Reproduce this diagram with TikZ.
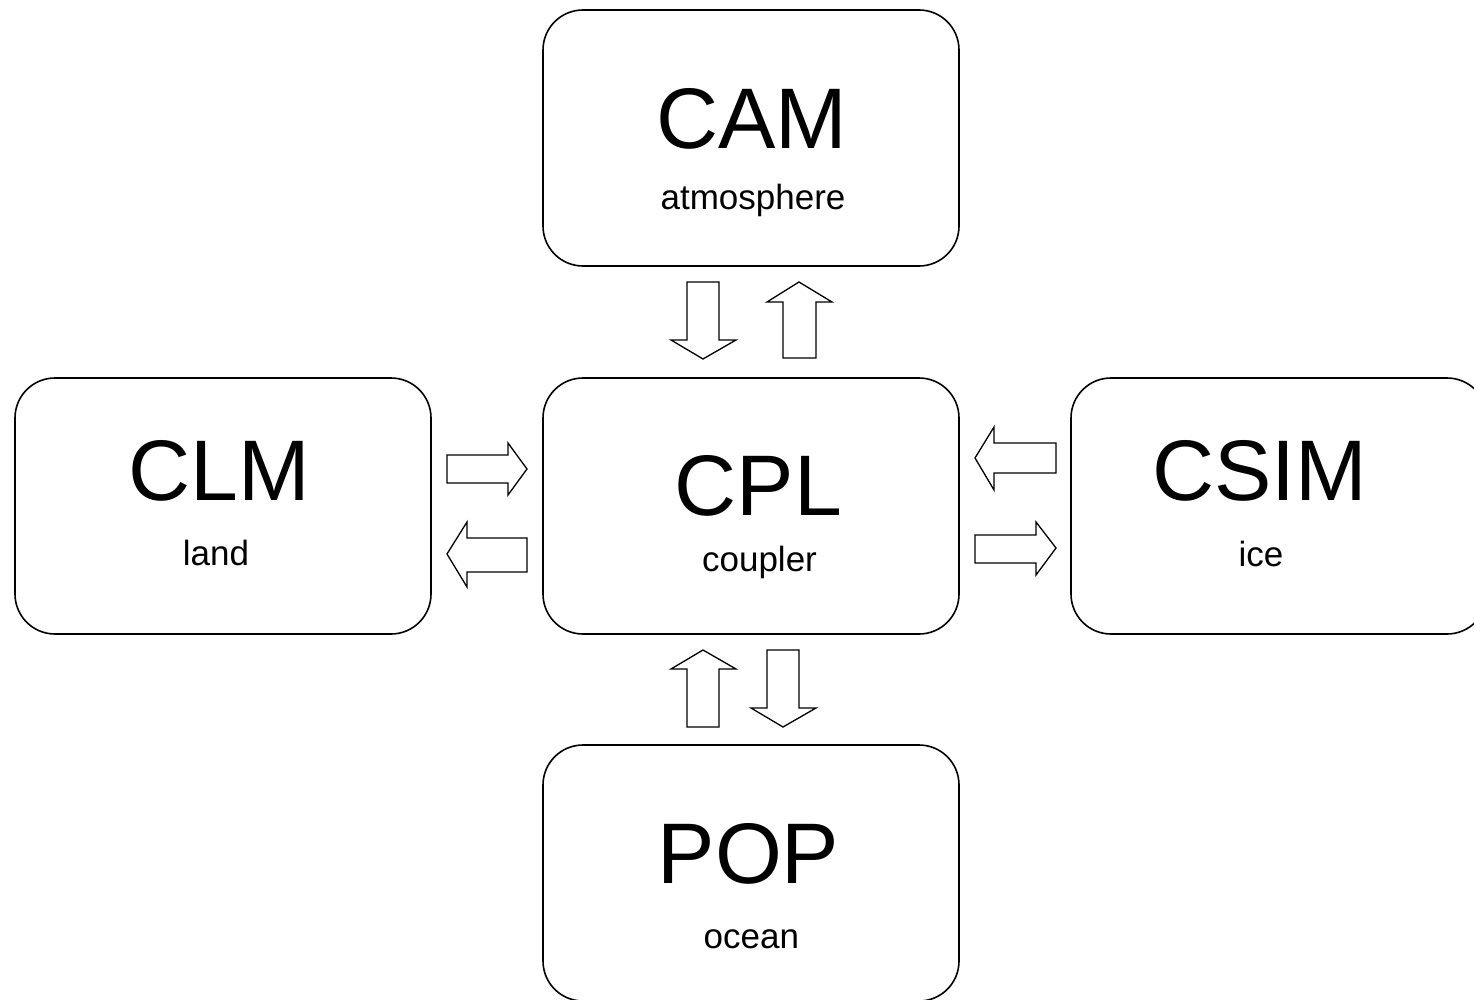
\documentclass[tikz,border=0pt]{standalone}
\usepackage{fontspec}
\setmainfont{Liberation Sans}
\begin{document}
\begin{tikzpicture}[x=1pt,y=-1pt,
  box/.style={draw, line width=1.6pt, rounded corners=40pt, minimum width=416pt, minimum height=256pt, inner sep=0pt},
  bigtext/.style={anchor=base, inner sep=0pt, font=\fontsize{86}{100}\selectfont},
  smalltext/.style={anchor=base, inner sep=0pt, font=\fontsize{35}{42}\selectfont},
  blockarrow/.style={draw, line width=1.3pt, line join=miter, fill=white}]
\useasboundingbox (0,0) rectangle (1474,1000);
% boxes
\node[box] (cam) at (751,138) {};
\node[box] (clm) at (223,506) {};
\node[box] (cpl) at (751,506) {};
\node[box] (csim) at (1279,506) {};
\node[box] (pop) at (751,873) {};
% texts
\node[bigtext] (camT) at (752,148.3) {CAM};
\node[smalltext] (camS) at (753,210) {atmosphere};
\node[bigtext] (clmT) at (219,500) {CLM};
\node[smalltext] (clmS) at (216,565) {land};
\node[bigtext] (cplT) at (758.5,515) {CPL};
\node[smalltext] (cplS) at (759.5,571.7) {coupler};
\node[bigtext] (csimT) at (1260,500) {CSIM};
\node[smalltext] (csimS) at (1261,566) {ice};
\node[bigtext] (popT) at (748.5,883.3) {POP};
\node[smalltext] (popS) at (751.3,948.3) {ocean};
% block arrows: CAM <-> CPL
\draw[blockarrow] (687,282) -- (719,282) -- (719,340) -- (736,340) -- (703,359) -- (671,340) -- (687,340) -- cycle;
\draw[blockarrow] (783,358) -- (816,358) -- (816,302) -- (832,302) -- (799,282) -- (767,302) -- (783,302) -- cycle;
% POP <-> CPL
\draw[blockarrow] (687,727) -- (719,727) -- (719,669) -- (736,669) -- (703,650) -- (671,669) -- (687,669) -- cycle;
\draw[blockarrow] (767,650) -- (799,650) -- (799,708) -- (816,708) -- (783,727) -- (751,708) -- (767,708) -- cycle;
% CLM <-> CPL
\draw[blockarrow] (447,455) -- (508,455) -- (508,443) -- (527,469) -- (508,495) -- (508,483) -- (447,483) -- cycle;
\draw[blockarrow] (527,538) -- (467,538) -- (467,522) -- (447,554) -- (467,587) -- (467,572) -- (527,572) -- cycle;
% CSIM <-> CPL
\draw[blockarrow] (1056,443) -- (994,443) -- (994,427) -- (975,458) -- (994,490) -- (994,473) -- (1056,473) -- cycle;
\draw[blockarrow] (975,535) -- (1036,535) -- (1036,522) -- (1056,548) -- (1036,575) -- (1036,563) -- (975,563) -- cycle;
\end{tikzpicture}
\end{document}
